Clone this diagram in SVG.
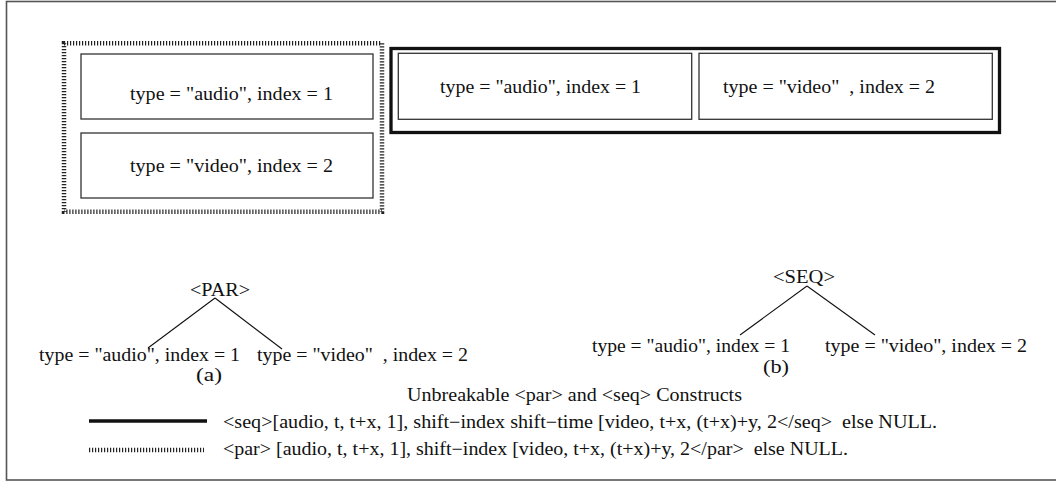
<svg xmlns="http://www.w3.org/2000/svg" width="1056" height="483" viewBox="0 0 1056 483">
<style>
text{font-family:"Liberation Serif","Times New Roman",serif;font-size:18px;fill:#111;}
.box{fill:none;stroke:#333;stroke-width:1.3;}
.dotted{fill:none;stroke:#222;stroke-width:4.5;stroke-dasharray:1.2 1.8;}
.thick{fill:none;stroke:#111;stroke-width:3.3;}
.edge{stroke:#111;stroke-width:1.1;fill:none;}
</style>
<rect x="6.5" y="1.5" width="1060" height="478.5" fill="#fff" stroke="#555" stroke-width="1.6"/>

<g id="par-group">
<rect class="dotted" x="64" y="43.3" width="318" height="168.5"/>
</g>
<g id="seq-group">
<rect class="thick" x="391" y="48.5" width="608.5" height="84"/>
</g>

<g id="par-audio">
<rect class="box" x="81" y="54" width="292" height="65"/>
<text x="130" y="100" textLength="203" lengthAdjust="spacingAndGlyphs">type = "audio", index = 1</text>
</g>
<g id="par-video">
<rect class="box" x="81" y="133" width="292" height="65"/>
<text x="130" y="172" textLength="203" lengthAdjust="spacingAndGlyphs">type = "video", index = 2</text>
</g>
<g id="seq-audio">
<rect class="box" x="398.3" y="53.3" width="293.4" height="66"/>
<text x="440" y="93" textLength="201" lengthAdjust="spacingAndGlyphs">type = "audio", index = 1</text>
</g>
<g id="seq-video">
<rect class="box" x="699" y="53.3" width="293.3" height="66"/>
<text x="723" y="93" textLength="212" lengthAdjust="spacingAndGlyphs" xml:space="preserve">type = "video"  , index = 2</text>
</g>

<g id="par-root">
<text x="190" y="296" textLength="60" lengthAdjust="spacingAndGlyphs">&lt;PAR&gt;</text>
</g>
<g id="par-leaf-audio">
<text x="39" y="361" textLength="201" lengthAdjust="spacingAndGlyphs">type = "audio", index = 1</text>
</g>
<g id="par-leaf-video">
<text x="257" y="361" textLength="211" lengthAdjust="spacingAndGlyphs" xml:space="preserve">type = "video"  , index = 2</text>
</g>
<g id="label-a">
<text x="196" y="381" textLength="26" lengthAdjust="spacingAndGlyphs">(a)</text>
</g>

<g id="seq-root">
<text x="773" y="283" textLength="62" lengthAdjust="spacingAndGlyphs">&lt;SEQ&gt;</text>
</g>
<g id="seq-leaf-audio">
<text x="592" y="352" textLength="198" lengthAdjust="spacingAndGlyphs">type = "audio", index = 1</text>
</g>
<g id="seq-leaf-video">
<text x="825" y="352" textLength="202" lengthAdjust="spacingAndGlyphs">type = "video", index = 2</text>
</g>
<g id="label-b">
<text x="763" y="373" textLength="26" lengthAdjust="spacingAndGlyphs">(b)</text>
</g>

<g id="connectors">
<line class="edge" x1="215" y1="298" x2="148" y2="348"/>
<line class="edge" x1="215" y1="298" x2="282" y2="349"/>
<line class="edge" x1="807" y1="286" x2="740" y2="335"/>
<line class="edge" x1="807" y1="286" x2="875" y2="335"/>
</g>

<g id="legend">
<text x="407" y="401" textLength="335" lengthAdjust="spacingAndGlyphs">Unbreakable &lt;par&gt; and &lt;seq&gt; Constructs</text>
<line x1="89" y1="421" x2="207" y2="421" stroke="#111" stroke-width="3.3"/>
<text x="223" y="428" textLength="714" lengthAdjust="spacingAndGlyphs" xml:space="preserve">&lt;seq&gt;[audio, t, t+x, 1], shift−index shift−time [video, t+x, (t+x)+y, 2&lt;/seq&gt;  else NULL.</text>
<line x1="89" y1="450" x2="204" y2="450" stroke="#222" stroke-width="4.5" stroke-dasharray="1.2 1.8"/>
<text x="223" y="455" textLength="625" lengthAdjust="spacingAndGlyphs" xml:space="preserve">&lt;par&gt; [audio, t, t+x, 1], shift−index [video, t+x, (t+x)+y, 2&lt;/par&gt;  else NULL.</text>
</g>
</svg>
